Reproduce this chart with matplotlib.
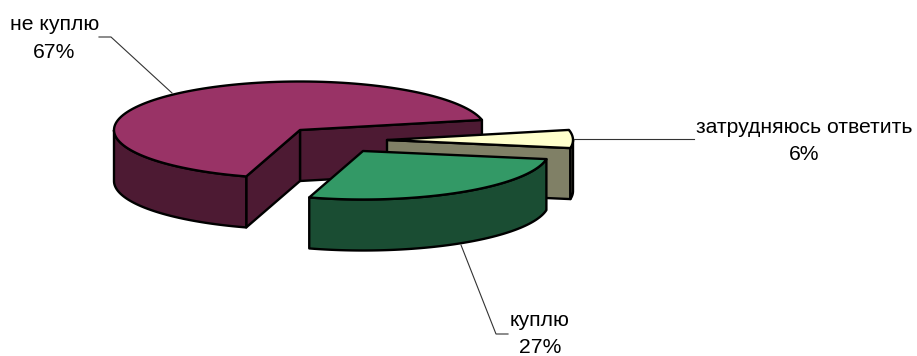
import numpy as np
from matplotlib import pyplot as plt
from matplotlib.patches import Polygon

plt.rcParams['font.family'] = ['Liberation Sans', 'DejaVu Sans']

labels = ['не куплю', 'куплю', 'затрудняюсь ответить']
values = [67, 27, 6]
top_colors = ['#993366', '#339966', '#FFFFCC']
side_colors = ['#4D1A33', '#1A4D33', '#808066']
# centre of each exploded slice, px
centers = [(300, 130), (363, 151), (387, 140)]
start = 12

rx, ry = 186, 48.5
depth = 51
edge = dict(edgecolor='black', linewidth=1.7, joinstyle='round')

fig = plt.figure(figsize=(9.17, 3.56), dpi=100)
ax = fig.add_axes([0, 0, 1, 1])
ax.set_xlim(0, 917)
ax.set_ylim(356, 0)
ax.axis('off')


def arc(c, a0, a1):
    t = np.radians(np.linspace(a0, a1, 120))
    return np.column_stack([c[0] + rx * np.cos(t), c[1] - ry * np.sin(t)])


def draw_slice(i, a0, a1):
    c = centers[i]
    side = side_colors[i]
    # radial walls, only those facing the viewer
    for a, visible in ((a0, i in (0, 2)), (a1, i == 0)):
        if visible:
            p = arc(c, a, a)[0]
            wall = [c, p, (p[0], p[1] + depth), (c[0], c[1] + depth)]
            ax.add_patch(Polygon(wall, facecolor=side, **edge))
    # outer rim where it is in front
    lo = max(a0, 180)
    hi = min(a1, 360)
    if hi > lo:
        rim = arc(c, lo, hi)
        low = rim[::-1] + [0, depth]
        ax.add_patch(Polygon(np.vstack([rim, low]), facecolor=side, **edge))
    top = np.vstack([[c], arc(c, a0, a1)])
    ax.add_patch(Polygon(top, facecolor=top_colors[i], **edge))


angles = start + np.cumsum([0] + values) * 3.6
for i in (0, 2, 1):
    draw_slice(i, angles[i], angles[i + 1])

# leader lines
lead = dict(color='#333333', linewidth=0.8)
ax.plot([99, 111, 172], [37, 37, 93], **lead)
ax.plot([574, 694], [139, 139], **lead)
ax.plot([461, 496, 508], [245, 334, 334], **lead)

txt = dict(ha='center', va='center', fontsize=15.2, color='black', linespacing=1.55)
ax.text(54.5, 38.5, f'{labels[0]}\n{values[0]}%', **txt)
ax.text(804.5, 141, f'{labels[2]}\n{values[2]}%', **txt)
ax.text(540, 334, f'{labels[1]}\n{values[1]}%', **txt)

fig.savefig('out.png', dpi=100)
